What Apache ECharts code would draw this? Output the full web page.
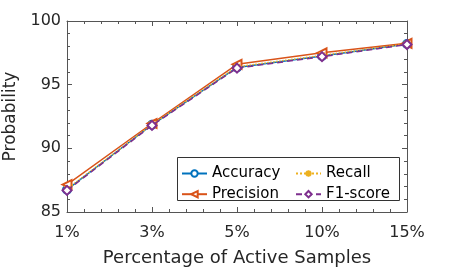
<!DOCTYPE html>
<html>
<head>
<meta charset="utf-8">
<script src="https://cdn.jsdelivr.net/npm/echarts@6/dist/echarts.min.js"></script>
<style>html,body{margin:0;padding:0;background:#fff}#c{width:449px;height:269px}</style>
</head>
<body>
<div id="c"></div>
<script>
var categories = ['1%', '3%', '5%', '10%', '15%'];
var accuracy  = [86.75, 91.85, 96.35, 97.25, 98.20];
var precision = [87.15, 91.95, 96.60, 97.50, 98.25];
var recall    = [86.80, 91.85, 96.40, 97.30, 98.20];
var f1score   = [86.70, 91.80, 96.30, 97.20, 98.15];
var yTicks = [85, 90, 95, 100];

function pts(arr){ return arr.map(function(v,i){ return [i, v]; }); }
var FONT = 'DejaVu Sans';
var TXT = '#262626';
var AX = '#555555';
var asterisk = 'path://M0,-5L0,5M-5,0L5,0M-3.6,-3.6L3.6,3.6M3.6,-3.6L-3.6,3.6';

var chart = echarts.init(document.getElementById('c'), null, {renderer:'canvas'});
var xBase = {
  type:'value', min:0, max:categories.length-1, interval:1,
  axisLine:{show:true, onZero:false, lineStyle:{color:AX, width:1}},
  axisTick:{show:true, inside:true, length:5, lineStyle:{color:AX}},
  minorTick:{show:true, splitNumber:5, length:3, lineStyle:{color:AX}},
  splitLine:{show:false}
};
var yBase = {
  type:'value', min:yTicks[0], max:yTicks[yTicks.length-1], interval:5,
  axisLine:{show:true, onZero:false, lineStyle:{color:AX, width:1}},
  axisTick:{show:true, inside:true, length:5, lineStyle:{color:AX}},
  minorTick:{show:true, splitNumber:5, length:3, lineStyle:{color:AX}},
  splitLine:{show:false}
};
var legendText = {fontFamily:FONT, fontSize:15, color:'#000', lineHeight:15};
var option = {
  animation:false,
  backgroundColor:'#fff',
  grid:{left:67, right:42, top:21, bottom:57, containLabel:false, outerBoundsMode:'none'},
  xAxis:[
    Object.assign({}, xBase, {position:'bottom',
      name:'Percentage of Active Samples', nameLocation:'middle', nameGap:37,
      nameTextStyle:{fontFamily:FONT, fontSize:18, color:TXT},
      axisLabel:{show:true, margin:13, fontFamily:FONT, fontSize:16, color:TXT,
        formatter:function(v){ return categories[Math.round(v)] || ''; }}}),
    Object.assign({}, xBase, {position:'top', axisLabel:{show:false}})
  ],
  yAxis:[
    Object.assign({}, yBase, {position:'left',
      name:'Probability', nameLocation:'middle', nameGap:45,
      nameTextStyle:{fontFamily:FONT, fontSize:17, color:TXT},
      axisLabel:{show:true, margin:6, fontFamily:FONT, fontSize:16, color:TXT,
        formatter:function(v){ return yTicks.indexOf(v) >= 0 ? String(v) : ''; }}}),
    Object.assign({}, yBase, {position:'right', axisLabel:{show:false}})
  ],
  graphic:[{
    type:'rect', z:3, shape:{x:177.5, y:157.5, width:222, height:43},
    style:{fill:'#fff', stroke:'#333', lineWidth:1}
  }],
  legend:[
    {orient:'vertical', left:181, top:166, padding:0, itemGap:5.7, itemWidth:25, itemHeight:8,
     z:5, data:['Accuracy','Precision'], textStyle:legendText},
    {orient:'vertical', left:295, top:166, padding:0, itemGap:5.7, itemWidth:25, itemHeight:8,
     z:5, data:['Recall','F1-score'], textStyle:legendText}
  ],
  series:[
    {name:'Accuracy', type:'line', data:pts(accuracy), symbol:'emptyCircle', symbolSize:8,
     lineStyle:{color:'#0072BD', width:1.5, type:'solid'}, itemStyle:{color:'#0072BD', borderWidth:1.2}, z:2},
    {name:'Precision', type:'line', data:pts(precision), symbol:'emptyTriangle', symbolRotate:90, symbolSize:9,
     lineStyle:{color:'#D95319', width:1.5, type:'solid'}, itemStyle:{color:'#D95319', borderWidth:1.2}, z:3},
    {name:'Recall', type:'line', data:pts(recall), symbol:asterisk, symbolSize:8,
     lineStyle:{color:'#EDB120', width:1.5, type:'dotted'}, itemStyle:{color:'#EDB120', borderColor:'#EDB120', borderWidth:1.5}, z:4},
    {name:'F1-score', type:'line', data:pts(f1score), symbol:'emptyDiamond', symbolSize:9,
     lineStyle:{color:'#7E2F8E', width:1.5, type:[6,4]}, itemStyle:{color:'#7E2F8E', borderWidth:1.2}, z:5}
  ]
};
chart.setOption(option);
</script>
</body>
</html>
